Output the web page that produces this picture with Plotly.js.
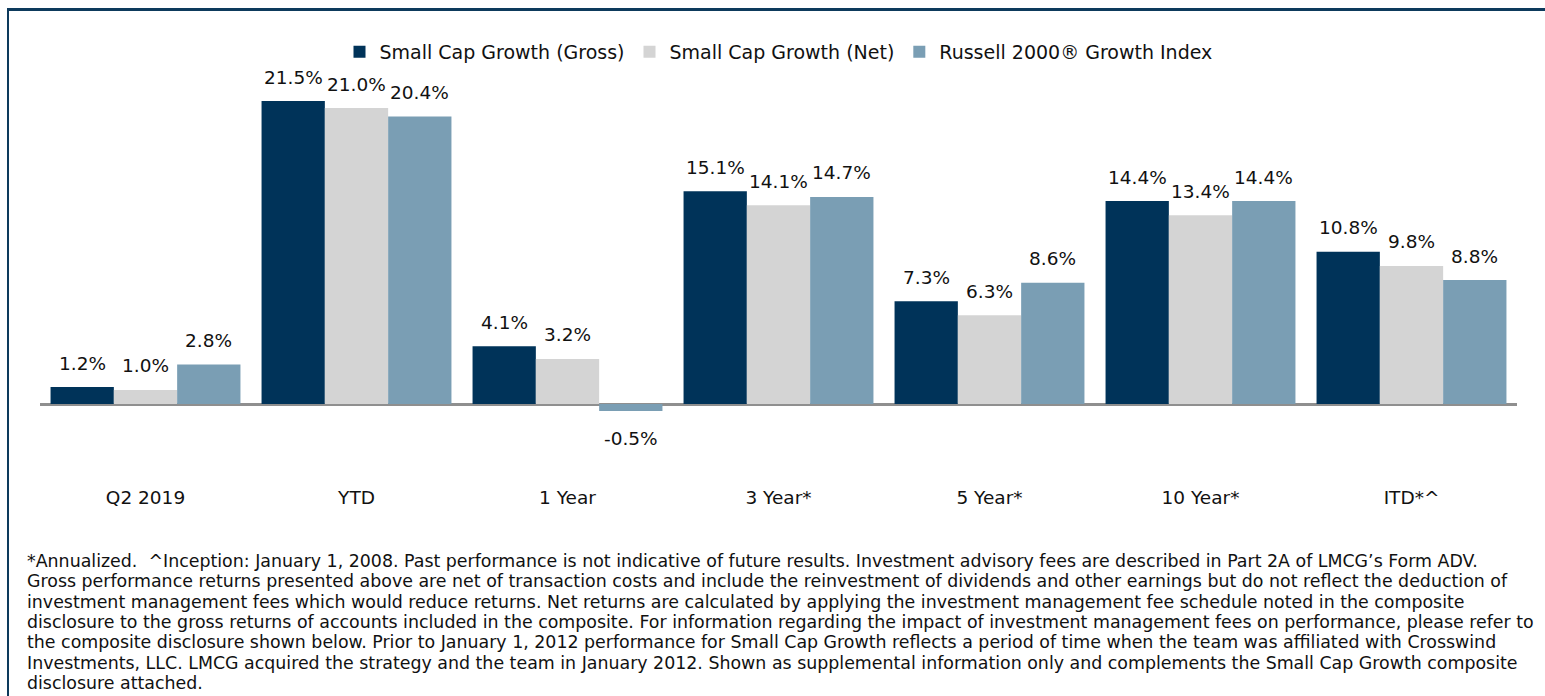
<!DOCTYPE html>
<html>
<head>
<meta charset="utf-8">
<script src="https://cdn.plot.ly/plotly-3.0.1.min.js"></script>
<style>
  html, body { margin: 0; padding: 0; background: #ffffff; }
  #chart { width: 1545px; height: 696px; position: relative; }
  #frame { position: absolute; left: 7px; top: 8px; width: 1600px; height: 800px;
           border-top: 3px solid #0d3a5c; border-left: 2px solid #0d3a5c; pointer-events: none; }
</style>
</head>
<body>
<div id="chart"></div>
<div id="frame"></div>
<script>
const categories = ["Q2 2019", "YTD", "1 Year", "3 Year*", "5 Year*", "10 Year*", "ITD*^"];
const seriesNames = ["Small Cap Growth (Gross)", "Small Cap Growth (Net)", "Russell 2000® Growth Index"];
const grossValues = [1.2, 21.5, 4.1, 15.1, 7.3, 14.4, 10.8];
const netValues = [1.0, 21.0, 3.2, 14.1, 6.3, 13.4, 9.8];
const russellValues = [2.8, 20.4, -0.5, 14.7, 8.6, 14.4, 8.8];
const footnoteLines = [
  "*Annualized.  ^Inception: January 1, 2008. Past performance is not indicative of future results. Investment advisory fees are described in Part 2A of LMCG’s Form ADV.",
  "Gross performance returns presented above are net of transaction costs and include the reinvestment of dividends and other earnings but do not reflect the deduction of",
  "investment management fees which would reduce returns. Net returns are calculated by applying the investment management fee schedule noted in the composite",
  "disclosure to the gross returns of accounts included in the composite. For information regarding the impact of investment management fees on performance, please refer to",
  "the composite disclosure shown below. Prior to January 1, 2012 performance for Small Cap Growth reflects a period of time when the team was affiliated with Crosswind",
  "Investments, LLC. LMCG acquired the strategy and the team in January 2012. Shown as supplemental information only and complements the Small Cap Growth composite",
  "disclosure attached."
];

const colors = ["#003359", "#d4d4d4", "#7a9eb4"];
const allValues = [grossValues, netValues, russellValues];

// layout geometry (pixels)
const W = 1545, H = 696;
const plotLeft = 40, plotRight = 1517, plotTop = 40, plotBottom = 484;
const zeroPx = 404, pxPerUnit = 14.09;
const yMax = (zeroPx - plotTop) / pxPerUnit;
const yMin = -(plotBottom - zeroPx) / pxPerUnit;
const plotH = plotBottom - plotTop, plotW = plotRight - plotLeft;
const barW = plotW / categories.length * 0.9 / 3;

const labelFont = { family: "DejaVu Sans", size: 18.5, color: "#111111" };

const traces = allValues.map((vals, i) => ({
  type: "bar",
  name: seriesNames[i],
  x: categories,
  y: vals,
  marker: { color: colors[i], line: { width: 0 } },
  hoverinfo: "skip"
}));

const annotations = [];
allValues.forEach((vals, i) => {
  vals.forEach((v, j) => {
    annotations.push({
      x: categories[j], y: v, xref: "x", yref: "y",
      text: v.toFixed(1) + "%",
      showarrow: false,
      xshift: (i - 1) * barW,
      yshift: v >= 0 ? 24 : -27,
      yanchor: "middle", xanchor: "center",
      font: labelFont
    });
  });
});

const footTop = 561, footStep = 20.3;
footnoteLines.forEach((line, k) => {
  const py = footTop + k * footStep;
  annotations.push({
    xref: "paper", yref: "paper",
    x: (25 - plotLeft) / plotW,
    y: (plotBottom - py) / plotH,
    xanchor: "left", yanchor: "middle",
    text: line, showarrow: false, align: "left",
    font: { family: "DejaVu Sans", size: 17.4, color: "#111111" }
  });
});

const layout = {
  width: W, height: H,
  paper_bgcolor: "#ffffff", plot_bgcolor: "#ffffff",
  margin: { l: plotLeft, r: W - plotRight, t: plotTop, b: H - plotBottom, pad: 0 },
  barmode: "group", bargap: 0.1, bargroupgap: 0,
  showlegend: true,
  legend: {
    orientation: "h", x: 0.5, xanchor: "center",
    y: (plotBottom - 52) / plotH, yanchor: "middle",
    font: { family: "DejaVu Sans", size: 19, color: "#111111" },
    bgcolor: "rgba(0,0,0,0)", traceorder: "normal", itemclick: false
  },
  xaxis: {
    type: "category", showgrid: false, showline: false, zeroline: false,
    ticks: "", tickfont: labelFont, ticklabelstandoff: 0, fixedrange: true
  },
  yaxis: {
    range: [yMin, yMax], showgrid: false, showline: false, showticklabels: false,
    ticks: "", zeroline: true, zerolinecolor: "#8f8f8f", zerolinewidth: 3, fixedrange: true
  },
  annotations: annotations
};

Plotly.newPlot("chart", traces, layout, { displayModeBar: false, staticPlot: true });
</script>
</body>
</html>
